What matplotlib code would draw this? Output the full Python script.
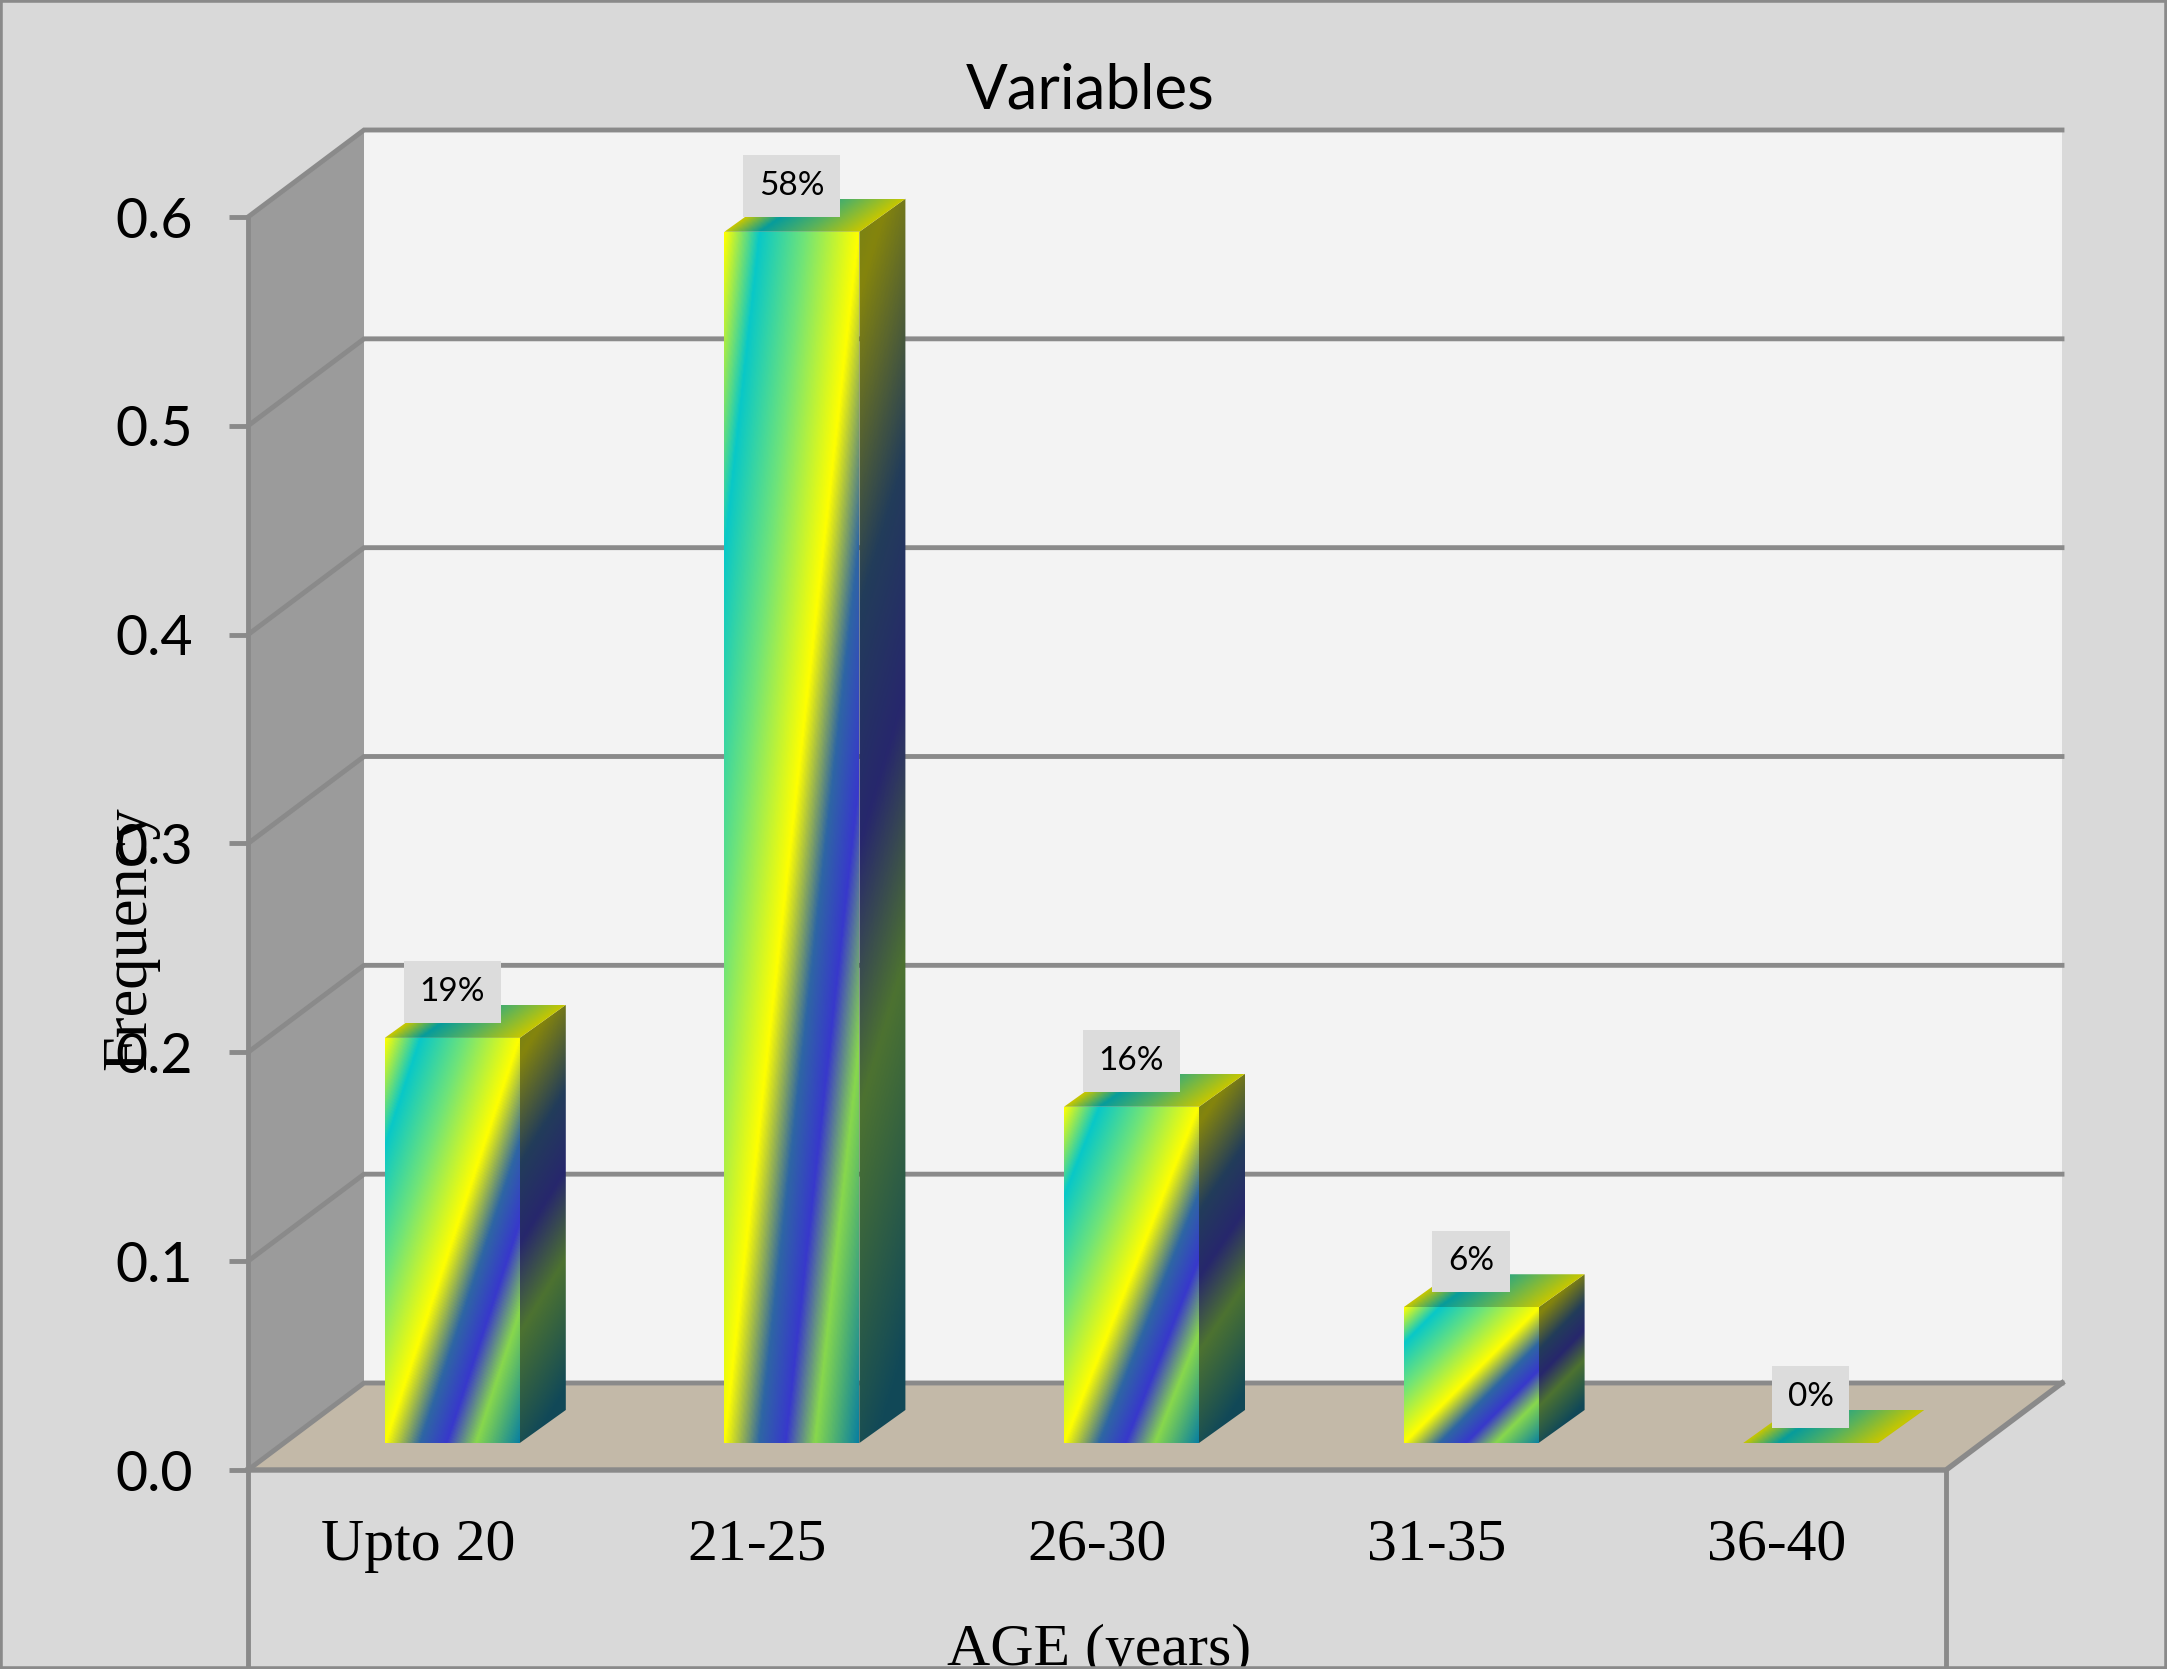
import numpy as np
import matplotlib
matplotlib.use("Agg")
import matplotlib.pyplot as plt
from matplotlib.colors import LinearSegmentedColormap
from matplotlib.patches import Polygon, Rectangle

# Data
age_groups = ["Upto 20", "21-25", "26-30", "31-35", "36-40"]
frequency = [0.194, 0.58, 0.161, 0.065, 0.0]
labels = ["19%", "58%", "16%", "6%", "0%"]
y_ticks = [0.0, 0.1, 0.2, 0.3, 0.4, 0.5, 0.6]

# Style
W, H = 2167, 1669
LEFT, RIGHT, BOTTOM, TOP = 248, 1946, 1470, 217  # front plane in pixels
PX_X = (RIGHT - LEFT) / len(age_groups)
PX_Y = (BOTTOM - TOP) / max(y_ticks)
GREY = "#8a8a8a"
LW = 3.5

# 3D offsets, in data units
wall_dx, wall_dy = 116 / PX_X, 87 / PX_Y
bar_w = 135 / PX_X
bar_shift_x, bar_shift_y = 34.5 / PX_X, 27 / PX_Y
bar_dx, bar_dy = 46 / PX_X, 33 / PX_Y

stops = [(0.0, "#ffff00"), (0.13, "#08c8c8"), (0.3, "#70e478"), (0.5, "#ffff00"),
         (0.63, "#2e66a4"), (0.73, "#3838cc"), (0.84, "#88d84c"), (1.0, "#0a80a0")]
cmap = LinearSegmentedColormap.from_list("bar_fill", stops)

fig = plt.figure(figsize=(W / 100, H / 100), dpi=100, facecolor="#d9d9d9")
ax = fig.add_axes([LEFT / W, 1 - BOTTOM / H, (RIGHT - LEFT) / W, (BOTTOM - TOP) / H])
ax.patch.set_visible(False)
ax.set_xlim(0, len(age_groups))
ax.set_ylim(0, max(y_ticks))
for s in ax.spines.values():
    s.set_visible(False)

n = len(age_groups)
top = max(y_ticks)

# Walls and floor
ax.add_patch(Polygon([(0, 0), (wall_dx, wall_dy), (wall_dx, top + wall_dy), (0, top)],
                     fc="#9b9b9b", ec="none", clip_on=False, zorder=1))
ax.add_patch(Rectangle((wall_dx, wall_dy), n, top, fc="#f3f3f3", ec="none", clip_on=False, zorder=1))
ax.add_patch(Polygon([(0, 0), (n, 0), (n + wall_dx, wall_dy), (wall_dx, wall_dy)],
                     fc="#c3b9a8", ec="none", clip_on=False, zorder=1))

# Gridlines on the back wall and side wall
for v in y_ticks:
    ax.plot([0, wall_dx, n + wall_dx], [v, v + wall_dy, v + wall_dy], color=GREY, lw=LW,
            clip_on=False, zorder=2, solid_joinstyle="miter")
ax.plot([0, n, n + wall_dx], [0, 0, wall_dy], color=GREY, lw=LW + 0.4, clip_on=False, zorder=2.5)
ax.plot([0, 0], [top, -(H - BOTTOM) / PX_Y], color=GREY, lw=LW, clip_on=False, zorder=2.5)
ax.plot([n, n], [0, -(H - BOTTOM) / PX_Y], color=GREY, lw=LW, clip_on=False, zorder=2.5)


def fill_face(xs, ys, rgb, outline, z):
    im = ax.imshow(rgb, extent=[xs[0], xs[-1], ys[0], ys[-1]], origin="lower",
                   aspect="auto", interpolation="bilinear", zorder=z)
    face = Polygon(outline, fc="none", ec="none", clip_on=False, zorder=z)
    ax.add_patch(face)
    im.set_clip_path(face)
    im.set_clip_box(fig.bbox)  # side and top faces poke above the axes


# Bars with front, side and top faces
for i, val in enumerate(frequency):
    x0 = i + 0.5 + bar_shift_x - bar_w / 2
    x1 = x0 + bar_w
    y0 = bar_shift_y
    y1 = y0 + val
    z = 3 + i * 0.1

    if val > 0:
        # front
        xs = np.linspace(x0, x1, 150)
        ys = np.linspace(y0, y1, 400)
        xx, yy = np.meshgrid(xs, ys)
        t = ((xx - x0) / bar_w + 1 - (yy - y0) / val) / 2
        fill_face(xs, ys, cmap(t)[..., :3], [(x0, y0), (x1, y0), (x1, y1), (x0, y1)], z + 0.02)

        # side
        xs = np.linspace(x1, x1 + bar_dx, 60)
        ys = np.linspace(y0, y1 + bar_dy, 400)
        xx, yy = np.meshgrid(xs, ys)
        u = (xx - x1) / bar_dx
        v = (yy - y0 - u * bar_dy) / val
        t = np.clip(0.5 + 0.5 * (1 - v) + 0.05 * (u - 0.5), 0, 1)
        fill_face(xs, ys, cmap(t)[..., :3] * 0.47 + 0.05,
                  [(x1, y0), (x1 + bar_dx, y0 + bar_dy), (x1 + bar_dx, y1 + bar_dy), (x1, y1)], z + 0.01)

    # top
    xs = np.linspace(x0, x1 + bar_dx, 200)
    ys = np.linspace(y1, y1 + bar_dy, 40)
    xx, yy = np.meshgrid(xs, ys)
    w = (yy - y1) / bar_dy
    t = np.clip((xx - x0 - w * bar_dx) / bar_w / 2, 0, 1)
    fill_face(xs, ys, cmap(t)[..., :3] * 0.78,
              [(x0, y1), (x1, y1), (x1 + bar_dx, y1 + bar_dy), (x0 + bar_dx, y1 + bar_dy)], z + 0.03)

    ax.annotate(labels[i], ((x0 + x1) / 2, y1), xytext=(0, 33), textcoords="offset points",
                ha="center", va="center", fontsize=24, family="Lato", color="black", zorder=10,
                annotation_clip=False,
                bbox=dict(boxstyle="square,pad=0.47", fc="#dcdcdc", ec="none"))

ax.set_xticks(np.arange(n) + 0.5)
ax.set_xticklabels(age_groups, family="Liberation Serif", fontsize=43)
ax.set_yticks(y_ticks)
ax.set_yticklabels([f"{v:.1f}" for v in y_ticks], family="Lato", fontsize=40, va="center_baseline")
ax.tick_params(axis="x", length=0, pad=35)
ax.tick_params(axis="y", length=13.7, width=LW, color=GREY, pad=26)

ax.set_xlabel("AGE (years)", family="Liberation Serif", fontsize=43, va="baseline")
ax.xaxis.set_label_coords(0.501, (BOTTOM - 1665) / (BOTTOM - TOP))
ax.set_ylabel("Frequency", family="Liberation Serif", fontsize=45, va="center")
ax.yaxis.set_label_coords((130 - LEFT) / (RIGHT - LEFT), (BOTTOM - 938) / (BOTTOM - TOP))
ax.set_title("Variables", family="Lato", fontsize=44.5, x=0.496, y=(BOTTOM - 117) / (BOTTOM - TOP))

fig.add_artist(Rectangle((0, 0), 1, 1, transform=fig.transFigure, fill=False, ec=GREY, lw=4))

fig.savefig("out.png", dpi=100, facecolor=fig.get_facecolor())
